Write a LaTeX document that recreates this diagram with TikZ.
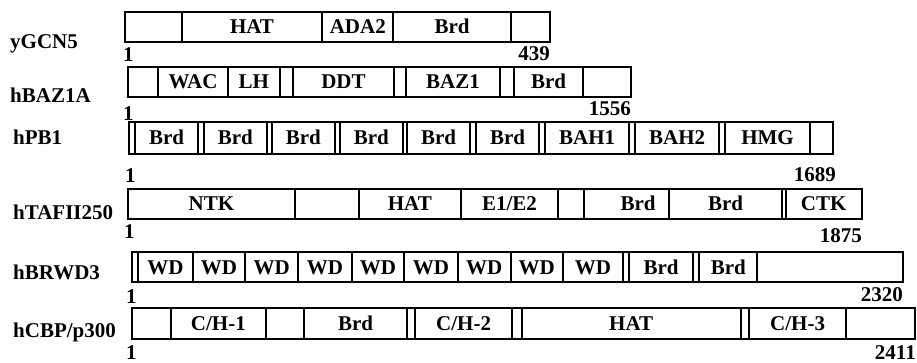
\documentclass[tikz,border=0pt]{standalone}
\usepackage{fontspec}
\setmainfont{Liberation Serif}
\newcommand\segrow[3]{%
  \foreach \a/\b/\t/\n in {#3}{%
    \pgfmathsetmacro\w{\b-\a}%
    \node[seg, minimum width=\w pt, minimum height=#2pt-#1pt] (\n) at (\a,#1) {\t};
  }}
\begin{document}
\begin{tikzpicture}[x=1pt,y=-1pt,
  txt/.style={font=\bfseries\fontsize{21}{21}\selectfont, text height=14pt, text depth=0pt, inner sep=0pt},
  seg/.style={txt, draw, line width=1.7pt, outer sep=0pt, anchor=north west},
  lbl/.style={txt, anchor=west},
  numl/.style={txt, anchor=west},
  numr/.style={txt, anchor=east}]
\useasboundingbox (0,0) rectangle (917,363);
% yGCN5
\segrow{12}{42}{125/181.7//ya, 181.7/322.3/HAT/yb, 322.3/393.3/ADA2/yc, 393.3/510.7/Brd/yd, 510.7/550//ye}
\node[lbl] (ly) at (10,42) {yGCN5};
\node[numl] (ny1) at (123,55) {1};
\node[numr] (ny2) at (550,54) {439};
% hBAZ1A
\segrow{67}{97}{127.7/158.3//ba, 158.3/227.7/WAC/bb, 227.7/280/LH/bc, 280/292.7//bd, 292.7/394.3/DDT/be, 394.3/406//bf, 406/500/BAZ1/bg, 500/514//bh, 514/583.3/Brd/bi, 583.3/631//bj}
\node[lbl] (lb) at (10,96) {hBAZ1A};
\node[numl] (nb1) at (123,114) {1};
\node[numr] (nb2) at (631,109) {1556};
% hPB1
\segrow{122}{154}{128.7/135//pa, 135/198.3/Brd/pb, 198.3/204//pc, 204/266.7/Brd/pd, 266.7/271.7//pe, 271.7/335/Brd/pf, 335/340//pg, 340/402.7/Brd/ph, 402.7/407.3//pi, 407.3/470/Brd/pj, 470/476//pk, 476/539.3/Brd/pl, 539.3/545//pm, 545/629.3/BAH1/pn, 629.3/635//po, 635/719.3/BAH2/pp, 719.3/725//pq, 725/810/HMG/pr, 810/833.3//ps}
\node[lbl] (lp) at (13,138) {hPB1};
\node[numl] (np1) at (125,176) {1};
\node[numr] (np2) at (836,175) {1689};
% hTAFII250
\segrow{189}{219}{127.7/295/NTK/ta, 295/359//tb, 359/460.7/HAT/tc, 460.7/558.3/{E1/E2}/td, 558.3/584//te, 584/669.3//tf, 669.3/781.7/Brd/tg, 781.7/785.7//th, 785.7/861.7/CTK/ti}
\node[txt] (tfl) at (638,204) {Brd};
\node[lbl] (lt) at (13,212) {hTAFII250};
\node[numl] (nt1) at (124,232) {1};
\node[numr] (nt2) at (862,236) {1875};
% hBRWD3
\segrow{252}{282}{131.7/138.3//wa, 138.3/192.7/WD/wb, 192.7/245/WD/wc, 245/298.3/WD/wd, 298.3/351.7/WD/we, 351.7/404/WD/wf, 404/457.7/WD/wg, 457.7/510.7/WD/wh, 510.7/562.7/WD/wi, 562.7/623.3/WD/wj, 623.3/629//wk, 629/693.3/Brd/wl, 693.3/699.3//wm, 699.3/757.3/Brd/wn, 757.3/903.3//wo}
\node[lbl] (lw) at (13,272) {hBRWD3};
\node[numl] (nw1) at (126,296) {1};
\node[numr] (nw2) at (903,294) {2320};
% hCBP/p300
\segrow{308}{339}{131.7/171//ca, 171/265.7/{C/H-1}/cb, 265.7/304//cc, 304/407.3/Brd/cd, 407.3/415//ce, 415/512.3/{C/H-2}/cf, 512.3/521.7//cg, 521.7/740.7/HAT/ch, 740.7/749.3//ci, 749.3/846/{C/H-3}/cj, 846/915//ck}
\node[lbl] (lc) at (13,330) {hCBP/p300};
\node[numl] (nc1) at (126,352) {1};
\node[numr] (nc2) at (916,352) {2411};
\end{tikzpicture}
\end{document}
